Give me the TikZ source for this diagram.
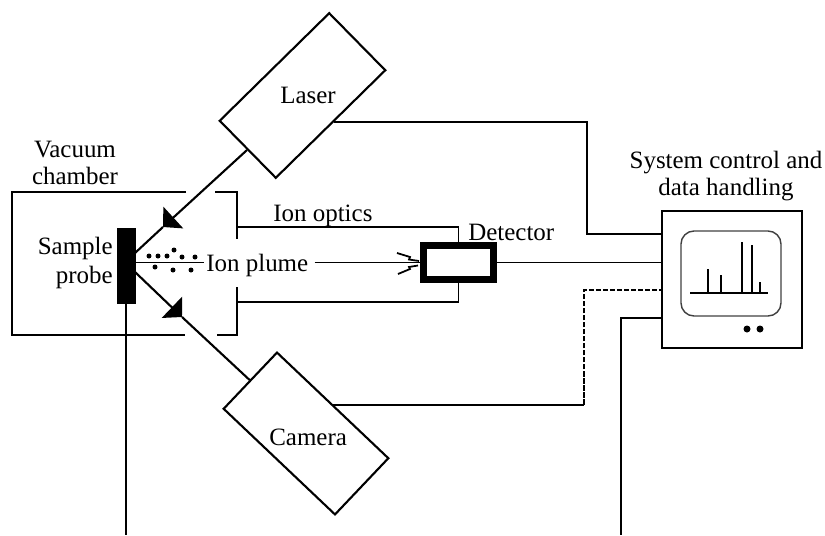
\documentclass[tikz,border=0pt]{standalone}
\usepackage{fontspec}
\setmainfont{Liberation Serif}
\usetikzlibrary{arrows.meta,positioning}
\tikzset{
  wire/.style={line width=1pt},
  beam/.style={line width=1.2pt},
  beamtip/.style={-{Triangle[length=2.8mm,width=5.8mm]}, line width=1.2pt},
  instr/.style={draw, line width=1.2pt, inner sep=0pt, minimum width=3.07cm},
  lbl/.style={inner sep=0pt, align=center},
  lbase/.style={inner sep=0pt, anchor=base west},
  peak/.style={line width=1pt},
}

\begin{document}
\begin{tikzpicture}[font=\fontsize{14.2}{15.3}\selectfont, >=Latex]
\useasboundingbox (0,0) rectangle (16.5,-10.7);

% instruments
\node[instr, minimum height=1.6cm, rotate=44.5] (laser) at (6.05,-1.91) {};
\node[instr, minimum height=1.55cm, rotate=-43.5] (camera) at (6.12,-8.67) {};
\node[draw, fill=black, minimum width=0.36cm, minimum height=1.5cm, inner sep=0pt] (probe) at (2.52,-5.31) {};
\node[draw, line width=0.14cm, minimum width=1.4cm, minimum height=0.68cm, inner sep=0pt] (detector) at (9.17,-5.25) {};
\node[draw, wire, minimum width=2.8cm, minimum height=2.74cm, inner sep=0pt] (monitor) at (14.64,-5.59) {};
\node[draw=black!75, line width=0.8pt, rounded corners=0.26cm, minimum width=2cm, minimum height=1.7cm, inner sep=0pt] (screen) at (14.62,-5.47) {};

% labels
\node[lbase] (laserlbl) at (5.6,-2.06) {Laser};
\node[lbase] (cameralbl) at (5.38,-8.9) {Camera};
\node[lbl] (chamberlbl) at (1.5,-3.26) {Vacuum\\chamber};
\node[lbl, align=right, anchor=east] (probelbl) at (2.26,-5.26) {Sample\\[1.5pt]probe};
\node[lbase] (opticslbl) at (5.46,-4.42) {Ion optics};
\node[lbase] (plumelbl) at (4.12,-5.42) {Ion plume};
\node[lbase] (detectorlbl) at (9.36,-4.8) {Detector};
\node[lbl] (systemlbl) at (14.52,-3.52) {System control and\\data handling};

\coordinate (probetop) at (2.7,-5.06);
\coordinate (probebot) at (2.7,-5.44);
\coordinate (lasertip) at (3.26,-4.54);
\coordinate (cameratip) at (3.64,-6.34);
\coordinate (portlaser) at (13.24,-4.68);
\coordinate (portcamera) at (13.24,-5.8);
\coordinate (portbus) at (13.24,-6.36);
\coordinate (cambend) at (camera.north -| 11.68,0);
\coordinate (busleft) at (2.54,-10.7);
\coordinate (busright) at (12.42,-10.7);

% vacuum chamber and ion optics
\draw[wire] (3.72,-3.84) -- (0.24,-3.84) -- (0.24,-6.7) -- (3.7,-6.7);
\draw[wire] (4.3,-3.84) -- (4.74,-3.84) -- (4.74,-4.78);
\draw[wire] (4.74,-5.74) -- (4.74,-6.7) -- (4.34,-6.7);
\draw[wire] (4.74,-4.54) -| (detector.north);
\draw[wire] (4.74,-6.04) -| (detector.south);

% beams
\draw[beamtip] (laser.west) -- (lasertip);
\draw[beam] (lasertip) -- (probetop);
\draw[beamtip] (probebot) -- (cameratip);
\draw[beam] (cameratip) -- (camera.west);

% ions
\draw[wire] (probe.east |- detector.west) -- ([xshift=-1pt]plumelbl.west |- detector.west);
\draw[wire] ([xshift=3.5pt]plumelbl.east |- detector.west) -- (detector.west);
\draw[wire] (7.94,-5.06) -- (8.2,-5.14) -- (8.18,-5.19) -- (8.38,-5.22);
\draw[wire] (7.96,-5.48) -- (8.2,-5.38) -- (8.18,-5.34) -- (8.36,-5.31);
\foreach \x/\y in {2.98/5.12, 3.16/5.12, 3.34/5.12, 3.48/5, 3.64/5.14, 3.9/5.14, 3.1/5.34, 3.46/5.4, 3.82/5.4}
  \fill (\x,-\y) circle (0.05);

% wiring to the computer
\draw[wire] (detector.east) -- (monitor.west |- detector.east);
\draw[wire] (laser.-85) -| ([xshift=-1.5cm]portlaser) -- (portlaser);
\draw[wire] (camera.north) -- (cambend);
\draw[wire, dashed, dash pattern=on 3pt off 1pt] (cambend) |- (portcamera);
\draw[wire] (probe.south) -- (probe.south |- busleft);
\draw[wire] (portbus) -| (busright);

% spectrum
\draw[line width=1.2pt] (13.8,-5.86) -- (15.36,-5.86);
\foreach \x/\y in {14.16/5.38, 14.42/5.5, 14.84/4.84, 15.04/4.9, 15.2/5.64}
  \draw[peak] (\x,-5.86) -- (\x,-\y);
\fill (14.94,-6.58) circle (0.07);
\fill (15.2,-6.58) circle (0.07);

\end{tikzpicture}
\end{document}
